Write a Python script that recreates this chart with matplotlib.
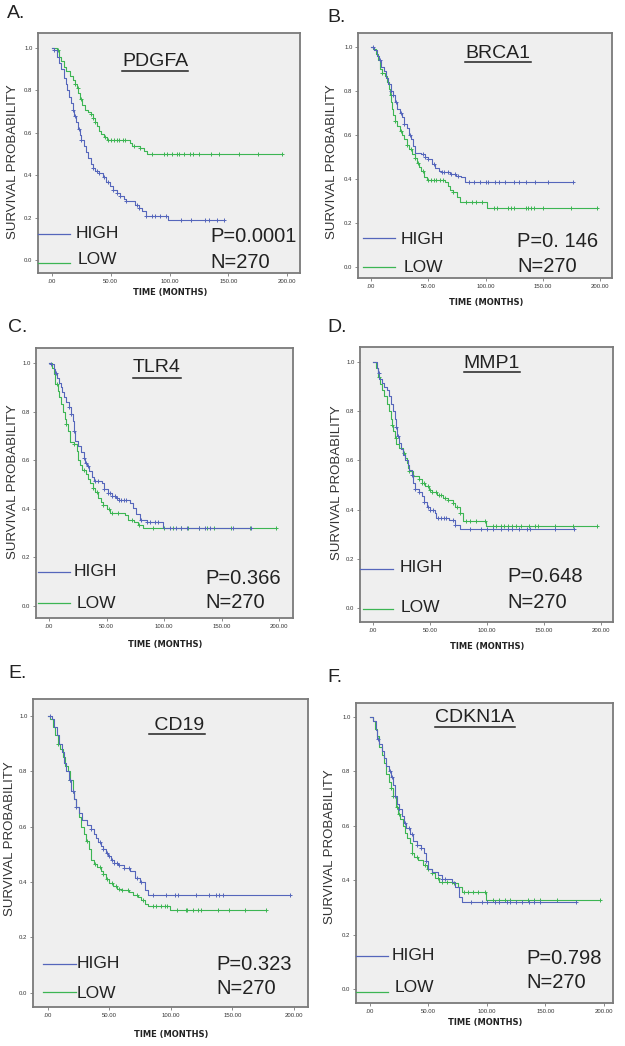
import numpy as np
import matplotlib
matplotlib.use("Agg")
import matplotlib.pyplot as plt
from matplotlib.lines import Line2D

plt.rcParams['font.family'] = ['Liberation Sans', 'DejaVu Sans']

# ---------------- data ----------------
genes = ["PDGFA", "BRCA1", "TLR4", "MMP1", " CD19", "CDKN1A"]
panel_letters = ["A.", "B.", "C.", "D.", "E.", "F."]
p_values = ["P=0.0001", "P=0. 146", "P=0.366", "P=0.648", "P=0.323", "P=0.798"]
n_text = "N=270"
xtick_vals = [0, 50, 100, 150, 200]
xtick_labels = [".00", "50.00", "100.00", "150.00", "200.00"]
ytick_vals = [0.0, 0.2, 0.4, 0.6, 0.8, 1.0]
ytick_labels = ["0.0", "0.2", "0.4", "0.6", "0.8", "1.0"]

# Panel A (PDGFA)
A_high_t = [0, 2, 4, 6, 8, 10, 11.5, 13, 14.5, 16, 17.5, 19, 20.5, 22, 23.5, 25, 27, 29, 31, 33, 35, 37, 40, 43, 46, 49, 52, 55, 58, 61, 63, 71, 74, 77, 80, 99]
A_high_s = [1.0, .99, .96, .93, .90, .86, .83, .80, .77, .74, .71, .68, .65, .62, .59, .565, .54, .51, .48, .455, .435, .42, .41, .39, .37, .35, .33, .315, .30, .29, .28, .26, .245, .23, .21, .19]
A_high_end = 146
A_high_cens = [2, 18, 20, 23, 25, 35, 38, 40, 44, 48, 52, 55, 58, 63, 72, 74, 80, 85, 88, 92, 97, 110, 118, 130, 134, 140, 146]
A_low_t = [0, 4, 6, 8, 10, 12, 15, 17.5, 19.5, 21, 22.5, 24, 25.5, 28, 31, 33, 35, 36.5, 38, 40, 42, 44, 47, 66, 68, 75, 78, 81]
A_low_s = [1.0, .99, .96, .94, .91, .89, .87, .85, .83, .81, .79, .76, .73, .71, .70, .69, .67, .65, .63, .61, .595, .58, .565, .55, .54, .53, .515, .50]
A_low_end = 196
A_low_cens = [5, 20, 22, 25, 33, 35, 37, 45, 48, 50, 53, 55, 57, 60, 62, 70, 75, 85, 95, 98, 102, 106, 108, 112, 117, 120, 125, 135, 142, 159, 175, 196]

# Panel B (BRCA1)
B_high_t = [0, 3, 5, 7, 9, 11, 13, 15, 17, 19, 21, 23, 25, 27, 29, 31, 33, 35, 37, 38.5, 44, 47, 50, 53, 56, 59, 61, 69, 74, 79, 82]
B_high_s = [1.0, .985, .96, .94, .91, .89, .86, .83, .80, .78, .75, .72, .70, .68, .65, .63, .60, .58, .55, .52, .515, .50, .49, .47, .45, .435, .43, .425, .415, .41, .385]
B_high_end = 176
B_high_cens = [2, 8, 17, 19, 22, 26, 29, 34, 45, 47, 50, 55, 62, 64, 67, 70, 73, 76, 86, 90, 95, 100, 102, 108, 112, 117, 125, 129, 135, 143, 155, 176]
B_low_t = [0, 2, 4, 6, 8, 10, 12, 14, 15.5, 16.5, 17.5, 18.5, 19.5, 21, 23, 25, 27, 29, 31, 33, 35.5, 38, 40, 42, 44, 46.5, 48.5, 65, 67, 69, 72, 75, 78, 101.5]
B_low_s = [1.0, .99, .97, .94, .90, .88, .87, .84, .81, .78, .75, .72, .69, .665, .64, .62, .60, .58, .555, .535, .515, .495, .475, .455, .435, .41, .395, .385, .37, .35, .34, .32, .295, .27]
B_low_end = 197
B_low_cens = [10, 17, 21, 26, 31, 35, 38, 41, 45, 50, 52, 55, 57, 60, 63, 72, 83, 88, 92, 97, 107, 110, 120, 122, 125, 135, 137, 140, 142, 150, 175, 197]

# Panel C (TLR4)
C_high_t = [0, 2, 4, 5.5, 7, 8.5, 10, 11.5, 13, 15, 17, 19, 20.5, 21.5, 22.5, 25, 27.5, 30, 31.5, 33, 35, 37, 39, 46, 48, 51, 55, 58, 61, 70, 73, 76, 79, 85, 99]
C_high_s = [1.0, .995, .975, .96, .94, .92, .90, .88, .86, .84, .82, .79, .76, .72, .68, .66, .635, .61, .59, .575, .555, .53, .515, .505, .48, .465, .455, .445, .435, .425, .405, .38, .355, .345, .323]
C_high_end = 176
C_high_cens = [2, 6, 17, 19, 22, 30, 32, 34, 40, 43, 48, 51, 53, 55, 57, 59, 61, 63, 65, 67, 80, 85, 88, 92, 95, 105, 110, 115, 120, 130, 136, 140, 160, 176]
C_low_t = [0, 3, 4, 5.5, 7.5, 9, 10.5, 12, 13.5, 15, 16.5, 18, 22, 24, 25.5, 27, 29, 32, 34, 35.5, 38, 40, 42.5, 45, 47, 50, 53, 66, 68.5, 74, 77, 81.5]
C_low_s = [1.0, .98, .955, .915, .885, .86, .83, .80, .77, .75, .72, .675, .665, .64, .60, .58, .56, .545, .525, .505, .485, .47, .445, .43, .415, .40, .385, .375, .355, .345, .333, .322]
C_low_end = 197
C_low_cens = [7, 15, 22, 30, 38, 42, 47, 52, 55, 60, 72, 78, 90, 100, 108, 115, 121, 130, 137, 143, 158, 175, 197]

# Panel D (MMP1)
D_high_t = [0, 3.5, 4.5, 5.5, 8, 10, 12, 14, 16, 17.5, 19, 20, 21.5, 23, 24.5, 26, 28, 30.5, 32, 34, 35, 37, 40, 43, 45, 47, 50, 54, 55.5, 67, 72, 76]
D_high_s = [1.0, .975, .955, .93, .915, .90, .885, .86, .83, .80, .77, .735, .70, .67, .645, .62, .60, .58, .56, .54, .51, .485, .47, .455, .43, .41, .40, .385, .365, .358, .338, .32]
D_high_end = 176
D_high_cens = [5, 20, 22, 34, 37, 40, 45, 48, 50, 53, 57, 60, 62, 64, 70, 72, 85, 95, 100, 105, 112, 118, 122, 128, 135, 138, 160, 176]
D_low_t = [0, 3, 4.5, 6, 8, 10, 12, 14, 15.5, 16.5, 18, 19.5, 20.5, 23, 26, 28, 29.5, 30.5, 32, 35, 40, 43, 46, 49, 52, 56, 61, 66, 70, 72, 76, 79, 99]
D_low_s = [1.0, .975, .94, .91, .885, .86, .83, .80, .77, .745, .72, .69, .665, .65, .63, .61, .59, .57, .555, .535, .525, .51, .495, .48, .47, .46, .447, .44, .425, .41, .385, .352, .334]
D_low_end = 196
D_low_cens = [5, 17, 20, 27, 32, 40, 43, 45, 48, 50, 52, 55, 58, 60, 63, 66, 70, 74, 76, 82, 85, 90, 98, 105, 108, 112, 115, 118, 122, 125, 130, 137, 142, 145, 160, 175, 196]

# Panel E (CD19)
E_high_t = [0, 3, 5, 7, 9, 11, 13, 15, 17, 19, 21, 23, 25, 28, 32, 35, 37, 39, 41, 43, 45, 47, 49, 51, 54, 57, 62, 67, 71, 75, 79, 81.5]
E_high_s = [1.0, .99, .96, .93, .90, .87, .83, .80, .77, .73, .70, .67, .65, .625, .605, .59, .575, .56, .545, .53, .52, .505, .495, .48, .47, .46, .45, .44, .415, .40, .37, .354]
E_high_end = 197
E_high_cens = [2, 18, 20, 23, 35, 42, 45, 48, 50, 52, 54, 56, 58, 62, 66, 72, 76, 85, 96, 103, 106, 120, 131, 137, 139, 142, 197]
E_low_t = [0, 2, 4, 6, 8, 10, 12, 14, 16, 18, 20, 21.5, 23, 25, 27, 29, 31, 33, 35, 37, 40, 43, 45, 47, 50, 53, 56, 60, 66, 69, 73, 76, 79, 81, 99.5]
E_low_s = [1.0, .99, .96, .93, .90, .88, .85, .82, .80, .77, .73, .70, .67, .635, .60, .575, .55, .52, .48, .465, .455, .44, .43, .41, .395, .385, .375, .37, .365, .355, .345, .335, .322, .312, .298]
E_low_end = 177
E_low_cens = [8, 18, 20, 32, 38, 42, 45, 48, 52, 55, 58, 60, 65, 72, 77, 85, 88, 92, 95, 97, 105, 112, 113, 118, 122, 124, 138, 147, 160, 177]

# Panel F (CDKN1A)
F_high_t = [0, 3, 5, 6, 8, 10, 12, 14, 16, 18, 20, 21, 23, 25, 27, 29, 31, 34, 37, 40, 44, 46, 48, 50, 53, 58, 62, 70, 73, 76, 79]
F_high_s = [1.0, .985, .95, .92, .90, .875, .85, .82, .80, .78, .75, .71, .68, .66, .635, .61, .59, .57, .545, .53, .52, .50, .47, .44, .43, .42, .405, .395, .375, .34, .32]
F_high_end = 176
F_high_cens = [7, 17, 19, 21, 25, 30, 33, 36, 40, 44, 48, 62, 64, 86, 96, 100, 107, 110, 117, 120, 125, 130, 136, 140, 145, 176]
F_low_t = [0, 2.5, 4, 6, 8, 10, 12, 14, 16, 18, 20, 22, 24, 26, 28, 30, 32, 34, 36, 38, 41, 45, 49, 53, 56, 59, 71, 75, 79, 99.5]
F_low_s = [1.0, .985, .955, .93, .89, .86, .83, .79, .76, .74, .71, .67, .645, .625, .60, .575, .555, .535, .50, .485, .475, .455, .44, .425, .41, .395, .388, .375, .357, .327]
F_low_end = 197
F_low_cens = [18, 20, 23, 25, 36, 40, 47, 50, 53, 58, 62, 66, 70, 72, 80, 84, 88, 92, 98, 105, 110, 115, 120, 135, 140, 145, 160, 197]

curves = [
    (A_high_t, A_high_s, A_high_end, A_high_cens, A_low_t, A_low_s, A_low_end, A_low_cens),
    (B_high_t, B_high_s, B_high_end, B_high_cens, B_low_t, B_low_s, B_low_end, B_low_cens),
    (C_high_t, C_high_s, C_high_end, C_high_cens, C_low_t, C_low_s, C_low_end, C_low_cens),
    (D_high_t, D_high_s, D_high_end, D_high_cens, D_low_t, D_low_s, D_low_end, D_low_cens),
    (E_high_t, E_high_s, E_high_end, E_high_cens, E_low_t, E_low_s, E_low_end, E_low_cens),
    (F_high_t, F_high_s, F_high_end, F_high_cens, F_low_t, F_low_s, F_low_end, F_low_cens),
]

# ---------------- layout (pixels) ----------------
W, H = 625, 1046
BLUE = "#5566bb"
GREEN = "#3cb553"

# axes box (l, t, r, b), x lims, y lims
boxes = [(38, 33, 300, 273), (358, 33, 612, 278), (36, 348, 293, 618),
         (360, 347, 613, 622), (33, 699, 308, 1007), (356, 703, 613, 1003)]
xlims = [(-11.9, 211), (-11.4, 210.5), (-11.3, 212.1), (-11.3, 210.4), (-12.2, 211.4), (-11.9, 207.7)]
ylims = [(-0.061, 1.071), (-0.05, 1.064), (-0.049, 1.062), (-0.057, 1.061), (-0.051, 1.061), (-0.051, 1.051)]
letter_pos = [(7, 14), (327, 17), (8, 328), (327, 328), (8, 673), (327, 677)]
title_pos = [(155, 62, 71), (498, 53, 62), (157, 368, 378), (492, 363, 372), (177, 725, 734), (475, 717, 727)]
high_txt = [(76, 234), (401, 239), (74, 571), (400, 568), (77, 963), (392, 956)]
low_txt = [(78, 260), (404, 267), (77, 604), (401, 607), (77, 993), (395, 987)]
pn_pos = [(210, 237, 262), (517, 242, 267), (205, 579, 603), (507, 577, 602), (216, 965, 988), (526, 959, 983)]
high_line = [(38, 70, 234), (363, 395, 238), (38, 70, 572), (360, 393, 569), (43, 76, 964), (356, 388, 956)]
low_line = [(38, 70, 263), (363, 395, 267), (38, 70, 603), (363, 393, 609), (43, 76, 992), (356, 388, 992)]
ylab_pos = [(13, 162), (332, 162), (13, 482), (337, 483), (10, 839), (330, 847)]
xlab_pos = [(170, 293), (486, 302), (165, 644), (487, 646), (171, 1035), (485, 1023)]

fig = plt.figure(figsize=(W / 100, H / 100), dpi=100)
fig.patch.set_facecolor("white")


def fx(x):
    return x / W


def fy(y):
    return 1 - y / H


def step_eval(t, s, q):
    idx = np.searchsorted(np.asarray(t), np.asarray(q), side="right") - 1
    return np.asarray(s)[idx]


titles = []
for i in range(6):
    l, t, r, b = boxes[i]
    ax = fig.add_axes([fx(l), fy(b), (r - l) / W, (b - t) / H])
    ax.set_facecolor("#efefef")
    for sp in ax.spines.values():
        sp.set_color("#7a7a7a")
        sp.set_linewidth(1.3)
    ht, hs, hend, hc, lt, ls, lend, lc = curves[i]
    for tt, ss, end, cens, col, z in ((lt, ls, lend, lc, GREEN, 2), (ht, hs, hend, hc, BLUE, 3)):
        tx = list(tt) + [end]
        sx = list(ss) + [ss[-1]]
        ax.step(tx, sx, where="post", color=col, lw=0.8, zorder=z)
        cy = step_eval(tt, ss, cens)
        ax.plot(cens, cy, linestyle="none", marker="+", ms=3.5, mew=0.7, color=col, zorder=z)
    ax.set_xlim(*xlims[i])
    ax.set_ylim(*ylims[i])
    ax.set_xticks(xtick_vals)
    ax.set_xticklabels(xtick_labels)
    ax.set_yticks(ytick_vals)
    ax.set_yticklabels(ytick_labels)
    ax.tick_params(length=2.5, width=0.6, color="#777777", labelsize=4.3,
                   labelcolor="#333333", pad=1.5)

    fig.text(fx(letter_pos[i][0]), fy(letter_pos[i][1]), panel_letters[i],
             fontsize=14, ha="left", va="center", color="#222222")
    tx_, ty_, uy = title_pos[i]
    tobj = fig.text(fx(tx_), fy(ty_), genes[i], fontsize=14, ha="center", va="center",
                    color="#222222")
    titles.append((tobj, uy))
    fig.text(fx(high_txt[i][0]), fy(high_txt[i][1]), "HIGH", fontsize=12.5,
             ha="left", va="center", color="#222222")
    fig.text(fx(low_txt[i][0]), fy(low_txt[i][1]), "LOW", fontsize=12.5,
             ha="left", va="center", color="#222222")
    px_, py1, py2 = pn_pos[i]
    fig.text(fx(px_), fy(py1), p_values[i], fontsize=14.5, ha="left", va="center",
             color="#222222")
    fig.text(fx(px_), fy(py2), n_text, fontsize=14.5, ha="left", va="center",
             color="#222222")
    x0, x1, yy = high_line[i]
    fig.add_artist(Line2D([fx(x0), fx(x1)], [fy(yy), fy(yy)], color=BLUE, lw=0.9,
                          transform=fig.transFigure))
    x0, x1, yy = low_line[i]
    fig.add_artist(Line2D([fx(x0), fx(x1)], [fy(yy), fy(yy)], color=GREEN, lw=0.9,
                          transform=fig.transFigure))
    fig.text(fx(ylab_pos[i][0]), fy(ylab_pos[i][1]), "SURVIVAL PROBABILITY",
             fontsize=9.5, rotation=90, ha="center", va="center", color="#333333")
    fig.text(fx(xlab_pos[i][0]), fy(xlab_pos[i][1]), "TIME (MONTHS)",
             fontsize=6, fontweight="bold", ha="center", va="center",
             color="#222222", family=["DejaVu Sans"])

fig.canvas.draw()
renderer = fig.canvas.get_renderer()
for tobj, uy in titles:
    bb = tobj.get_window_extent(renderer)
    fig.add_artist(Line2D([bb.x0 / W, bb.x1 / W], [fy(uy), fy(uy)], color="#222222",
                          lw=1.1, transform=fig.transFigure))

fig.savefig("out.png", dpi=100)
